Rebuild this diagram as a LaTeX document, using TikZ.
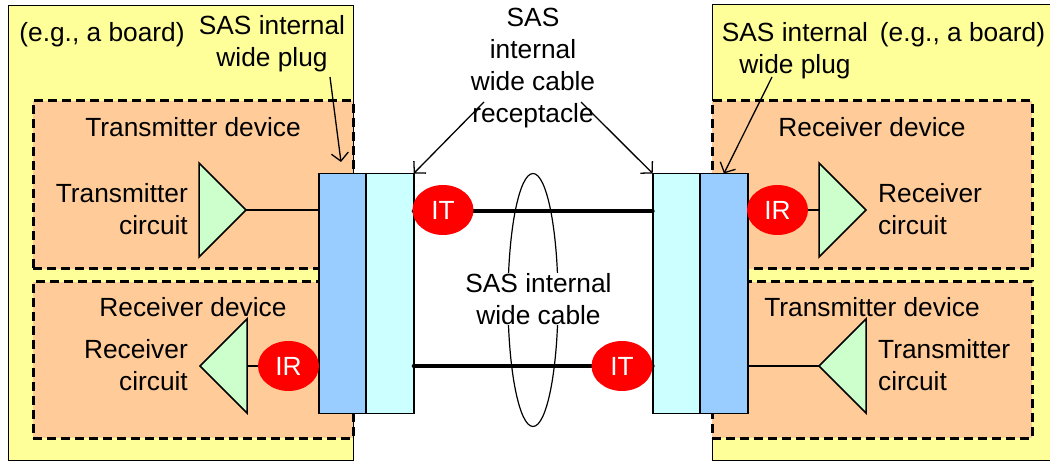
\documentclass[tikz,border=0pt]{standalone}
\usepackage{fontspec}
\setmainfont{Liberation Sans}
\usepackage{xcolor}
\usetikzlibrary{positioning,calc}
\usetikzlibrary{shapes.geometric,arrows.meta}
\definecolor{Board}{RGB}{255, 255, 153}
\definecolor{Device}{RGB}{255, 204, 153}
\definecolor{Plug}{RGB}{153, 204, 255}
\definecolor{Receptacle}{RGB}{204, 255, 255}
\definecolor{Amp}{RGB}{204, 255, 204}
\tikzset{
    txt/.style={inner sep=0pt,font=\fontsize{26.3pt}{32pt}\selectfont},
    board/.style={anchor=north west,fill=Board,inner sep=0pt},
    device/.style={anchor=north west,draw=black,fill=Device,line width=3pt,
        dash pattern=on 9pt off 5pt,inner sep=0pt,outer sep=0pt,minimum width=320pt},
    block/.style={anchor=north west,draw=black,line width=1.8pt,inner sep=0pt,outer sep=0pt,
        minimum width=47.5pt,minimum height=240pt},
    amp/.style={draw=black,fill=Amp,line width=1.5pt,isosceles triangle,
        isosceles triangle apex angle=90,inner sep=0pt,outer sep=0pt,minimum height=47pt,anchor=apex},
    endpoint/.style={ellipse,fill=red,text=white,inner sep=0pt,minimum width=61pt,
        minimum height=50pt,font=\fontsize{26.3pt}{32pt}\selectfont},
    wire/.style={line width=1.5pt},
    cable/.style={line width=4pt,line cap=round},
    pointer/.style={line width=1.3pt,-{Straight Barb[length=8pt,width=17pt]}}
}

\begin{document}
\begin{tikzpicture}[x=1pt,y=-1pt]
    \useasboundingbox (0,0) rectangle (1050,462);
    % boards
    \node[board,draw=black,line width=1pt,minimum width=345pt,minimum height=455pt] (boardL) at (8,5) {};
    \node[board,minimum width=338pt,minimum height=455pt] (boardR) at (712,5) {};
    \draw[line width=1pt] (1050,5) -- (712,5) -- (712,460) -- (1050,460);
    % devices
    \node[device,minimum height=168pt] (txdevL) at (33,101) {};
    \node[device,minimum height=156pt] (rxdevL) at (33,282) {};
    \node[device,minimum height=168pt] (rxdevR) at (712,101) {};
    \node[device,minimum height=156pt] (txdevR) at (712,282) {};
    % connectors
    \node[block,fill=Plug] (plugL) at (318.7,173.5) {};
    \node[block,fill=Receptacle] (receptL) at (366.2,173.5) {};
    \node[block,fill=Receptacle] (receptR) at (652.7,173.5) {};
    \node[block,fill=Plug] (plugR) at (700.2,173.5) {};
    % circuits
    \node[amp,shape border rotate=0] (txampL) at (246,210) {};
    \node[amp,shape border rotate=180] (rxampL) at (200,366) {};
    \node[amp,shape border rotate=0] (rxampR) at (866,210) {};
    \node[amp,shape border rotate=180] (txampR) at (819,366) {};
    \coordinate (cabletop) at (500,211.5);
    \coordinate (cablelow) at (500,366);
    % cables
    \draw[cable] (receptL.east |- cabletop) -- (receptR.west |- cabletop);
    \draw[cable] (receptL.east |- cablelow) -- (receptR.west |- cablelow);
    \draw[wire] (txampL.apex) -- (plugL.west |- txampL.apex);
    \draw[wire] (rxampL.east) -- (plugL.west |- rxampL.east);
    \draw[wire] (rxampR.west) -- (plugR.east |- rxampR.west);
    \draw[wire] (txampR.apex) -- (plugR.east |- txampR.apex);
    \node[endpoint] (itL) at (443,210) {IT};
    \node[endpoint] (irL) at (288.5,366) {IR};
    \node[endpoint] (irR) at (777.5,210) {IR};
    \node[endpoint] (itR) at (622,366) {IT};
    % cable loop
    \node[draw=black,line width=1.2pt,ellipse,inner sep=0pt,minimum width=50pt,minimum height=253pt] (loop) at (533,300) {};
    % labels
    \node[txt] (boardtxtL) at (102,34.5) {(e.g., a board)};
    \node[txt] (boardtxtR) at (962.5,34.5) {(e.g., a board)};
    \node[txt,align=center] (plugtxtL) at (272,43.5) {SAS internal\\wide plug};
    \node[txt,align=center] (plugtxtR) at (795,51) {SAS internal\\wide plug};
    \node[txt,align=center] (receptxt) at (533,68) {SAS\\internal\\wide cable\\receptacle};
    \node[txt] (txdevtxtL) at (193,127) {Transmitter device};
    \node[txt] (rxdevtxtL) at (193,307) {Receiver device};
    \node[txt] (rxdevtxtR) at (872,127) {Receiver device};
    \node[txt] (txdevtxtR) at (872,307) {Transmitter device};
    \node[txt,align=right,anchor=east] (txtxtL) at (188,209) {Transmitter\\circuit};
    \node[txt,align=right,anchor=east] (rxtxtL) at (188,365) {Receiver\\circuit};
    \node[txt,align=left,anchor=west] (rxtxtR) at (878,209) {Receiver\\circuit};
    \node[txt,align=left,anchor=west] (txtxtR) at (878,365) {Transmitter\\circuit};
    \node[txt,align=center,fill=white] (cabletxt) at (538.5,299) {SAS internal\\wide cable};
    % pointers
    \coordinate (plugtailL) at (330,77);
    \coordinate (plugheadL) at (341,162);
    \coordinate (plugtailR) at (772,77);
    \coordinate (recepttailL) at (484,102);
    \coordinate (recepttailR) at (581,102);
    \draw[pointer] (plugtailL) -- (plugheadL);
    \draw[pointer] (plugtailR) -- (plugR.north);
    \draw[pointer] (recepttailL) -- (receptL.north east);
    \draw[pointer] (recepttailR) -- (receptR.north west);
\end{tikzpicture}
\end{document}
